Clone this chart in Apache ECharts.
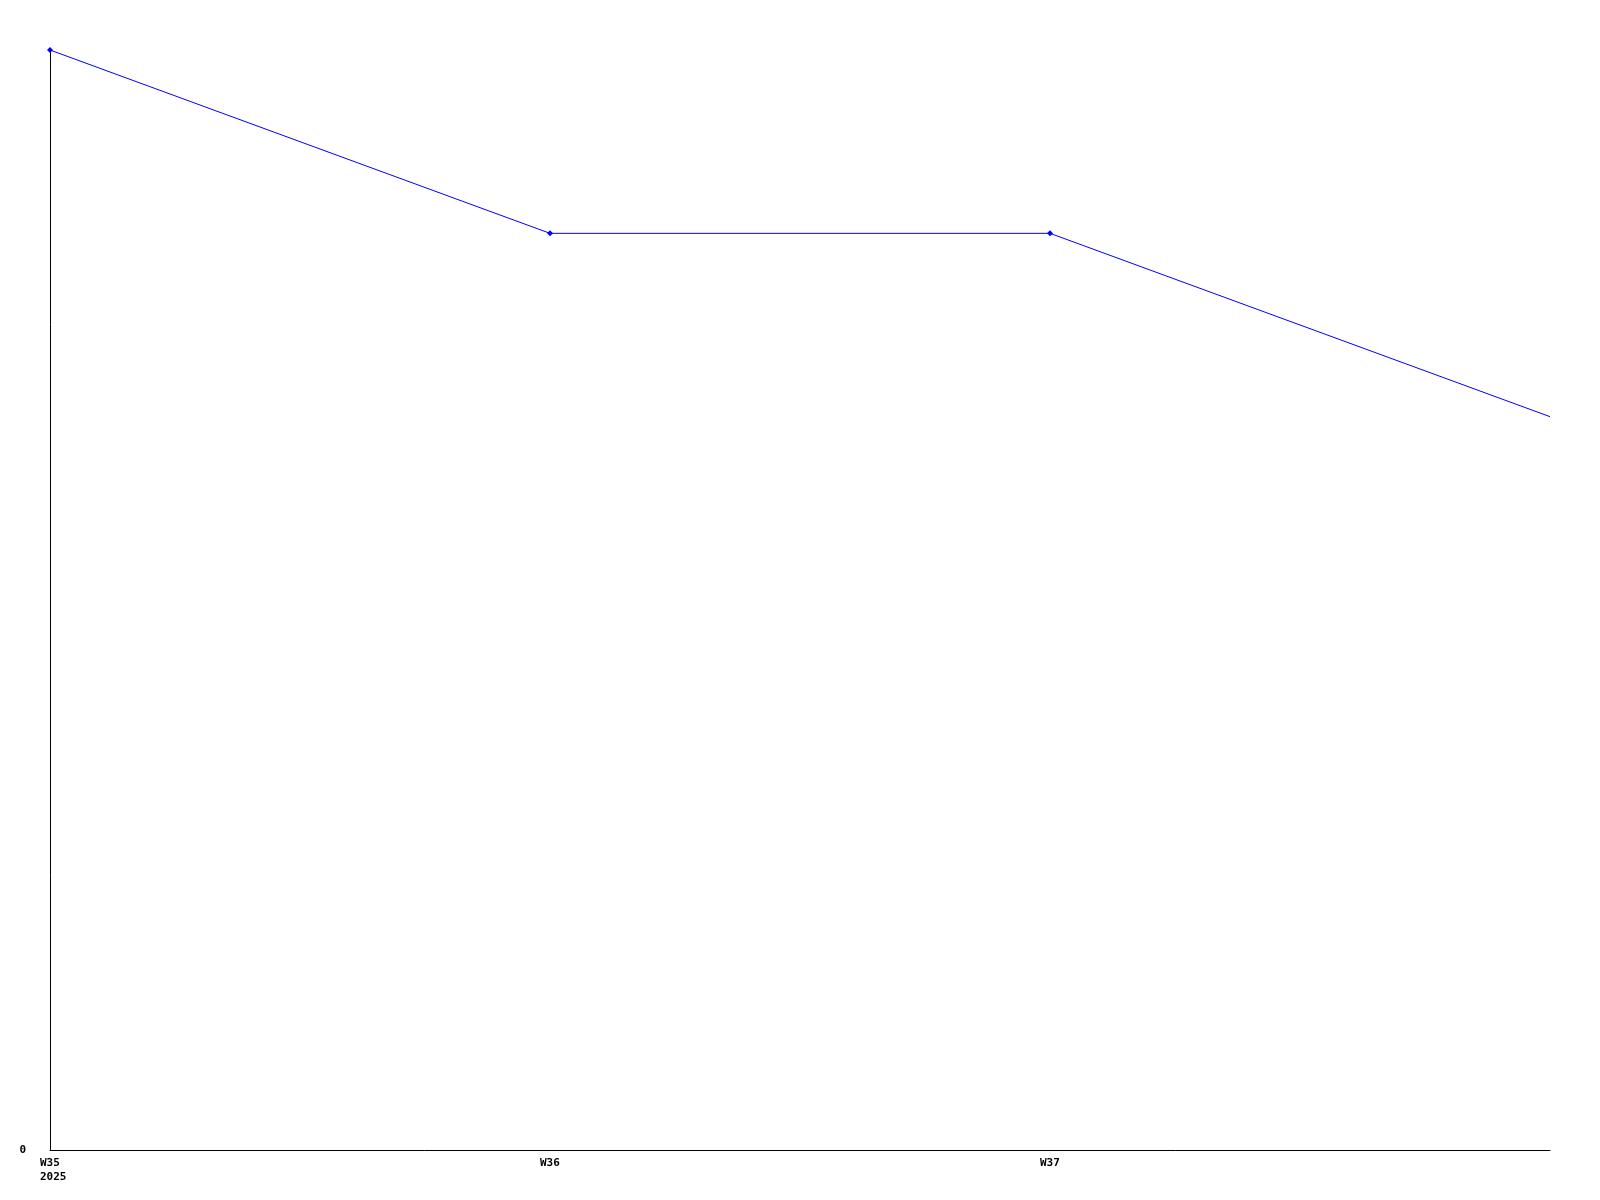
<!DOCTYPE html>
<html>
<head>
<meta charset="utf-8">
<script src="https://cdn.jsdelivr.net/npm/echarts@6/dist/echarts.min.js"></script>
<style>
html,body{margin:0;padding:0;background:#fff;}
#c{width:1600px;height:1200px;}
</style>
</head>
<body>
<div id="c"></div>
<script>
const categories = ["W35\n2025", "W36", "W37", ""];
const values = [6, 5, 5, 4];
const yTickLabels = ["0"];

const chart = echarts.init(document.getElementById('c'), null, {renderer: 'canvas'});
const font = {fontFamily: '"DejaVu Sans Mono", monospace', fontWeight: 'bold', fontSize: 11, color: '#000'};
chart.setOption({
  animation: false,
  backgroundColor: '#ffffff',
  grid: {left: 50, right: 50, top: 50, bottom: 50, containLabel: false},
  xAxis: {
    type: 'category',
    data: categories,
    boundaryGap: false,
    axisLine: {lineStyle: {color: '#000', width: 1}},
    axisTick: {show: false},
    splitLine: {show: false},
    axisLabel: Object.assign({}, font, {interval: 0, align: 'left', margin: 6, padding: [0, 0, 0, -10], lineHeight: 14})
  },
  yAxis: {
    type: 'value',
    min: 0, max: 6, interval: 6,
    axisLine: {show: true, lineStyle: {color: '#000', width: 1}},
    axisTick: {show: false},
    splitLine: {show: false},
    axisLabel: Object.assign({}, font, {margin: 24, formatter: function (v) { return v === 0 ? yTickLabels[0] : ''; }})
  },
  series: [{
    type: 'line',
    data: values.map((v, i) => i === values.length - 1 ? {value: v, symbol: 'none'} : v),
    symbol: 'diamond',
    symbolSize: 6,
    showAllSymbol: true,
    lineStyle: {color: '#0000ff', width: 1},
    itemStyle: {color: '#0000ff'},
    clip: false
  }]
});
</script>
</body>
</html>
